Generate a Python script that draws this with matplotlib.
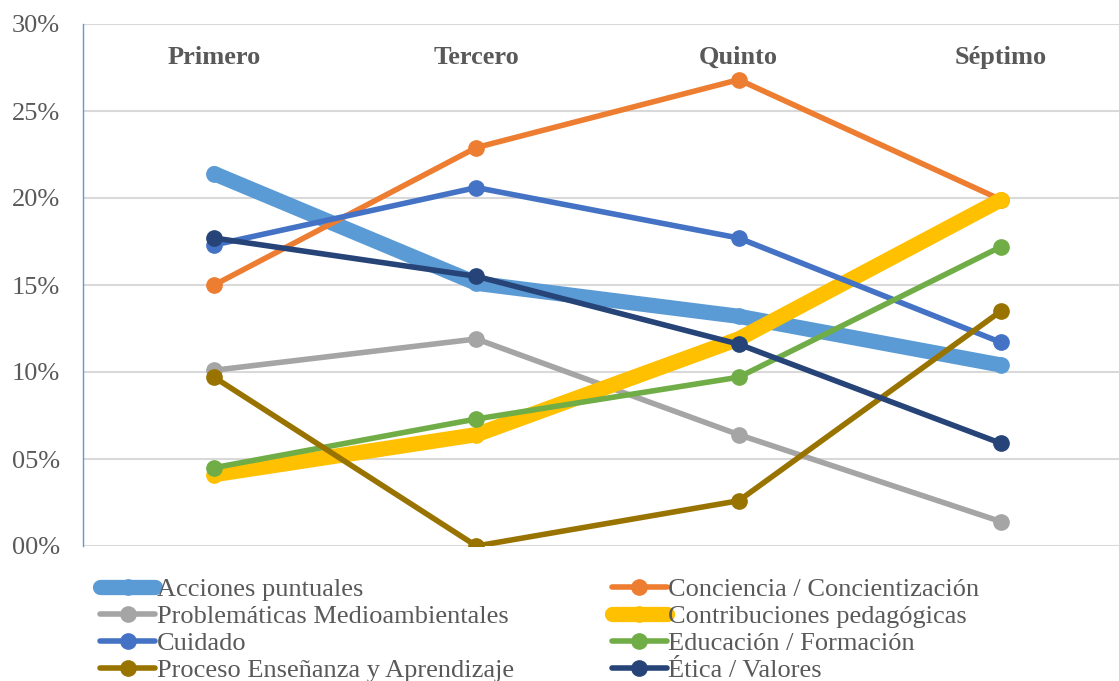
import matplotlib.pyplot as plt
from matplotlib.ticker import FuncFormatter

plt.rcParams['font.family'] = ['Liberation Serif', 'DejaVu Serif']

semestres = ['Primero', 'Tercero', 'Quinto', 'Séptimo']

# porcentaje por semestre
acciones = [21.4, 15.1, 13.2, 10.4]
conciencia = [15.0, 22.9, 26.8, 19.9]
problematicas = [10.1, 11.9, 6.4, 1.4]
contribuciones = [4.1, 6.4, 11.9, 19.9]
cuidado = [17.3, 20.6, 17.7, 11.7]
educacion = [4.5, 7.3, 9.7, 17.2]
proceso = [9.7, 0.0, 2.6, 13.5]
etica = [17.7, 15.5, 11.6, 5.9]

series = [
    ('Acciones puntuales', acciones, '#5B9BD5', 11),
    ('Conciencia / Concientización', conciencia, '#ED7D31', 4),
    ('Problemáticas Medioambientales', problematicas, '#A5A5A5', 4),
    ('Contribuciones pedagógicas', contribuciones, '#FFC000', 11),
    ('Cuidado', cuidado, '#4472C4', 4),
    ('Educación / Formación', educacion, '#70AD47', 4),
    ('Proceso Enseñanza y Aprendizaje', proceso, '#997300', 4),
    ('Ética / Valores', etica, '#264478', 4),
]

texto = '#595959'

fig = plt.figure(figsize=(11.19, 6.81), dpi=100)
ax = fig.add_axes([83 / 1119, 1 - 546 / 681, 1 - 83 / 1119, (546 - 24) / 681])

x = list(range(len(semestres)))
lineas = []
for nombre, valores, color, ancho in series:
    l, = ax.plot(x, valores, color=color, lw=ancho, marker='o', ms=11,
                 solid_capstyle='round', label=nombre, zorder=3)
    lineas.append(l)

ax.set_xlim(-0.5, 3.45)
ax.set_ylim(0, 30)
ax.set_yticks(range(0, 31, 5))
ax.yaxis.set_major_formatter(FuncFormatter(lambda v, p: f'{int(v):02d}%'))
ax.tick_params(axis='y', length=0, labelsize=19, labelcolor=texto, pad=16.5)
ax.set_xticks([])
ax.grid(axis='y', color='#D9D9D9', lw=1.5)
ax.set_axisbelow(True)
for lado in ['top', 'right', 'bottom']:
    ax.spines[lado].set_visible(False)
ax.spines['left'].set_color('#5B9BD5')
ax.spines['left'].set_linewidth(1)

for i, s in enumerate(semestres):
    ax.text(i, 28.1, s, ha='center', va='center', fontsize=19,
            fontweight='bold', color=texto)

# la leyenda llena por columnas: reordenar para leer por filas
orden = [0, 2, 4, 6, 1, 3, 5, 7]
leg = fig.legend([lineas[i] for i in orden], [series[i][0] for i in orden],
                 loc='upper left', bbox_to_anchor=(100 / 1119, 1 - 578 / 681),
                 ncol=2, frameon=False, fontsize=19, handlelength=2.1,
                 handletextpad=0.05, labelspacing=0.13, columnspacing=3.7,
                 borderaxespad=0, borderpad=0)
for t in leg.get_texts():
    t.set_color(texto)

fig.savefig('out.png', dpi=100)
